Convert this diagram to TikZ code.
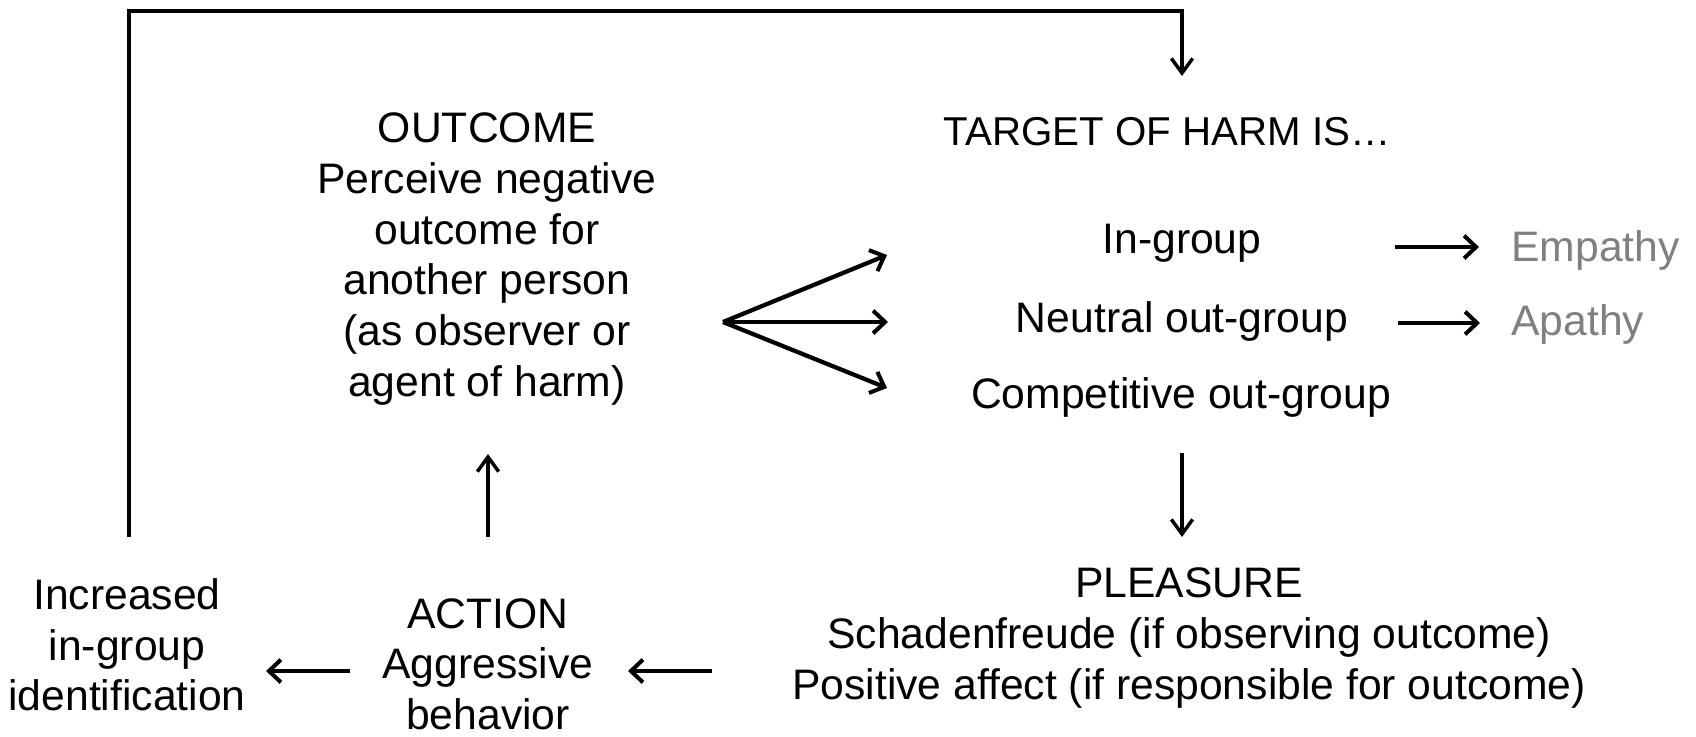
\documentclass[tikz,border=0pt]{standalone}
\usepackage{fontspec}
\setmainfont{Liberation Sans}
\usetikzlibrary{arrows.meta}
\begin{document}
\begin{tikzpicture}[x=0.75pt,y=-0.75pt,
  lbl/.style={inner sep=0pt,align=center,font=\fontsize{32}{38}\selectfont},
  grey/.style={lbl,text=greytxt,anchor=west},
  barb/.style={-{Straight Barb[length=9pt,width=17pt,line width=3pt]},line width=3.2pt},
  vert/.style={-{Straight Barb[length=11pt,width=16pt,line width=2.6pt]},line width=2.8pt},
  loopline/.style={line width=2.8pt}]
\definecolor{greytxt}{HTML}{808080}
\useasboundingbox (0,0) rectangle (1696,736);

% texts
\node[lbl] (outcome) at (487,259) {OUTCOME\\Perceive negative\\outcome for\\another person\\(as observer or\\agent of harm)};
\node[lbl,font=\fontsize{30.2}{36}\selectfont] (target) at (1167,132) {TARGET OF HARM IS…};
\node[lbl] (ingroup) at (1182,243) {In-group};
\node[lbl] (neutral) at (1182,321) {Neutral out-group};
\node[lbl] (compet) at (1181,397) {Competitive out-group};
\node[grey] (empathy) at (1511,250) {Empathy};
\node[grey] (apathy) at (1511,324) {Apathy};
\node[lbl] (pleasure) at (1189,638) {PLEASURE\\Schadenfreude (if observing outcome)\\Positive affect (if responsible for outcome)};
\node[lbl] (action) at (488,664) {ACTION\\Aggressive\\behavior};
\node[lbl] (increased) at (127,645) {Increased\\in-group\\identification};

% connector points
\coordinate (fan) at (723,322);
\coordinate (fanA) at (887,255);
\coordinate (fanB) at (888,322);
\coordinate (fanC) at (887,388);
\coordinate (empS) at (1395,247);
\coordinate (empE) at (1479,247);
\coordinate (apaS) at (1398,323);
\coordinate (apaE) at (1480,323);
\coordinate (downS) at (1182,453);
\coordinate (downE) at (1182,537);
\coordinate (plS) at (712,671);
\coordinate (plE) at (628,671);
\coordinate (acS) at (350,671);
\coordinate (acE) at (266,671);
\coordinate (upS) at (488,537);
\coordinate (upE) at (488,454);
\coordinate (loopS) at (129,537);
\coordinate (loopA) at (129,11);
\coordinate (loopB) at (1182,11);
\coordinate (loopE) at (1182,76);

\draw[barb] (fan) -- (fanA);
\draw[barb] (fan) -- (fanB);
\draw[barb] (fan) -- (fanC);
\draw[barb] (empS) -- (empE);
\draw[barb] (apaS) -- (apaE);
\draw[barb] (plS) -- (plE);
\draw[barb] (acS) -- (acE);
\draw[vert] (downS) -- (downE);
\draw[vert] (upS) -- (upE);
\draw[loopline,line join=miter] (loopS) -- (loopA) -- (loopB) -- ([yshift=-1pt]loopB);
\draw[vert] (loopB) -- (loopE);
\end{tikzpicture}
\end{document}
